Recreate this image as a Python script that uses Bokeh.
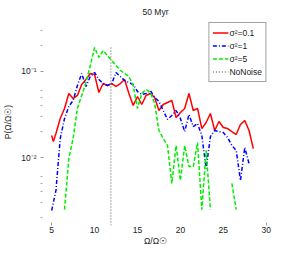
from bokeh.plotting import figure
from bokeh.models import FixedTicker, Range1d, Legend, LegendItem
from bokeh.embed import file_html
from bokeh.resources import INLINE

nan = float("nan")

title_text = "50 Myr"
x_label = "Ω/Ω☉"
y_label = "P(Ω/Ω☉)"

# sigma^2 = 0.1 (red)
red_x = [5.0, 5.2, 5.5, 6.0, 6.5, 7.0, 7.5, 8.0, 8.5, 9.0, 9.5, 10.0, 10.5, 11.0, 11.5, 12.0,
         12.5, 13.0, 13.5, 14.0, 14.5, 15.0, 15.5, 16.0, 16.5, 17.0, 17.5, 18.0, 18.5, 19.0,
         19.5, 20.0, 20.5, 21.0, 21.5, 22.0, 22.5, 23.0, 23.5, 24.0, 24.5, 25.0, 25.5, 26.0,
         26.5, 27.0, 27.5, 28.0, 28.5]
red_y = [0.0180, 0.0153, 0.0190, 0.0284, 0.0372, 0.0555, 0.0485, 0.0526, 0.0706, 0.0807,
         0.0948, 0.0923, 0.0570, 0.0724, 0.0687, 0.0724, 0.0670, 0.0724, 0.0807, 0.0555,
         0.0403, 0.0512, 0.0413, 0.0526, 0.0555, 0.0499, 0.0352, 0.0413, 0.0436, 0.0460,
         0.0292, 0.0334, 0.0372, 0.0555, 0.0352, 0.0372, 0.0217, 0.0255, 0.0325, 0.0206,
         0.0262, 0.0223, 0.0217, 0.0200, 0.0185, 0.0242, 0.0269, 0.0206, 0.0127]

# sigma^2 = 1 (blue)
blue_x = [5.0, 5.5, 6.0, 6.5, 7.0, 7.5, 8.0, 8.5, 9.0, 9.5, 10.0, 10.5, 11.0, 11.5, 12.0,
          12.5, 13.0, 13.5, 14.0, 14.5, 15.0, 15.5, 16.0, 16.5, 17.0, 17.5, 18.0, 18.5, 19.0,
          19.5, 20.0, 20.5, 21.0, 21.5, 22.0, 22.5, 23.0, 23.5, 24.0, 24.5, 25.0, 25.5, 26.0,
          26.5, 27.0, 27.5, 28.0]
blue_y = [0.00242, 0.00413, 0.0166, 0.0284, 0.0392, 0.0460, 0.0687, 0.0948, 0.0670, 0.0875,
          0.0973, 0.0807, 0.0724, 0.0687, 0.0724, 0.0973, 0.0875, 0.0785, 0.0745, 0.0706,
          0.0585, 0.0541, 0.0555, 0.0601, 0.0499, 0.0448, 0.0352, 0.0277, 0.0308, 0.0352,
          0.0284, 0.0200, 0.0316, 0.0229, 0.0248, 0.0180, 0.00745, 0.0175, 0.0206, 0.0200,
          0.0195, 0.0171, 0.0138, 0.0121, 0.00541, 0.0131, 0.00851]

# sigma^2 = 5 (green)
green_x = [6.5, 7.0, 7.5, 8.0, 8.5, 9.0, 9.5, 10.0, 10.5, 11.0, 11.5, 12.0, 12.5, 13.0, 13.5,
           14.0, 14.5, 15.0, 15.5, 16.0, 16.5, 17.0, 17.5, 18.0, 18.5, 19.0, 19.5, 20.0, 20.5,
           21.0, 21.5, 22.0, 22.5, 23.0, 23.5, 24.0, 24.5, 25.0, 25.5, 26.0, 26.5, 27.0, 27.5,
           28.0]
green_y = [0.00248, 0.00973, 0.0166, 0.0372, 0.0526, 0.0745, 0.117, 0.190, 0.146, 0.175,
           0.153, 0.134, 0.117, 0.103, 0.0948, 0.0875, 0.0687, 0.0372, 0.0555, 0.0618,
           0.0570, 0.0425, 0.0206, 0.0166, 0.0138, 0.00499, 0.0138, 0.00541, 0.0138, 0.00785,
           0.00785, 0.0149, 0.00248, 0.0121, 0.00248, nan, nan, 0.00248, nan, 0.00499,
           0.00248, nan, nan, 0.00248]

# No noise reference (vertical)
nonoise_x = [11.9, 11.9]
nonoise_y = [0.00162, 0.19]

x_ticks = [5, 10, 15, 20, 25, 30]
x_minor = [5, 30]
y_ticks = [0.01, 0.1]
y_tick_labels = ["10⁻²", "10⁻¹"]
y_minor = [0.002, 0.003, 0.004, 0.005, 0.006, 0.02, 0.03, 0.04, 0.05, 0.06, 0.2, 0.3]

FONT = "Liberation Sans"

p = figure(frame_width=230, frame_height=207, y_axis_type="log",
           x_range=Range1d(3.7, 30.5), y_range=Range1d(0.00162, 0.413),
           output_backend="svg", toolbar_location=None,
           min_border_left=40, min_border_right=10, min_border_top=18, min_border_bottom=20)
p.outline_line_color = None
p.grid.visible = False
p.background_fill_color = "white"
p.border_fill_color = "white"

p.title.text = title_text
p.title.align = "center"
p.title.text_font = FONT
p.title.text_font_size = "8.5px"
p.title.text_font_style = "normal"
p.title.text_color = "#222222"
p.title.standoff = 4
p.title.offset = 0

xa = p.xaxis[0]
xa.ticker = FixedTicker(ticks=x_ticks, minor_ticks=x_minor)
xa.axis_line_color = None
xa.major_tick_in = 0
xa.major_tick_out = 0
xa.minor_tick_in = 3
xa.minor_tick_out = 0
xa.minor_tick_line_color = "#999999"
xa.major_label_standoff = 1
xa.major_label_text_font = FONT
xa.major_label_text_font_size = "8.5px"
xa.major_label_text_color = "#222222"
xa.axis_label = x_label
xa.axis_label_text_font = FONT
xa.axis_label_text_font_size = "8.5px"
xa.axis_label_text_font_style = "normal"
xa.axis_label_text_color = "#222222"
xa.axis_label_standoff = 0

ya = p.yaxis[0]
ya.ticker = FixedTicker(ticks=y_ticks, minor_ticks=y_minor)
ya.major_label_overrides = dict(zip(y_ticks, y_tick_labels))
ya.axis_line_color = None
ya.major_tick_in = 3
ya.major_tick_out = 0
ya.major_tick_line_color = "#999999"
ya.minor_tick_in = 2
ya.minor_tick_out = 0
ya.minor_tick_line_color = "#aaaaaa"
ya.major_label_standoff = 4
ya.major_label_text_font = FONT
ya.major_label_text_font_size = "8.5px"
ya.major_label_text_color = "#222222"
ya.axis_label = y_label
ya.axis_label_text_font = FONT
ya.axis_label_text_font_size = "8.5px"
ya.axis_label_text_font_style = "normal"
ya.axis_label_text_color = "#222222"
ya.axis_label_standoff = 5

r_red = p.line(red_x, red_y, line_color="#ff0000", line_width=1.5)
r_blue = p.line(blue_x, blue_y, line_color="#0000ff", line_width=1.5, line_dash="4 2 1 2")
r_green = p.line(green_x, green_y, line_color="#00ee00", line_width=1.5, line_dash="4 2")
r_nn = p.line(nonoise_x, nonoise_y, line_color="#888888", line_width=1.5, line_dash="1 2")

legend = Legend(items=[
    LegendItem(label="σ²=0.1", renderers=[r_red]),
    LegendItem(label="σ²=1", renderers=[r_blue]),
    LegendItem(label="σ²=5", renderers=[r_green]),
    LegendItem(label="NoNoise", renderers=[r_nn]),
], location="top_right")
legend.margin = 4
legend.padding = 3
legend.spacing = 0
legend.glyph_width = 16
legend.glyph_height = 13
legend.label_height = 13
legend.label_width = 10
legend.label_standoff = 1
legend.label_text_font = FONT
legend.label_text_font_size = "8.5px"
legend.label_text_color = "#222222"
legend.border_line_color = "#444444"
legend.border_line_width = 1
legend.background_fill_color = "white"
legend.background_fill_alpha = 1
p.add_layout(legend)

open("out.html", "w").write(file_html(p, INLINE))
